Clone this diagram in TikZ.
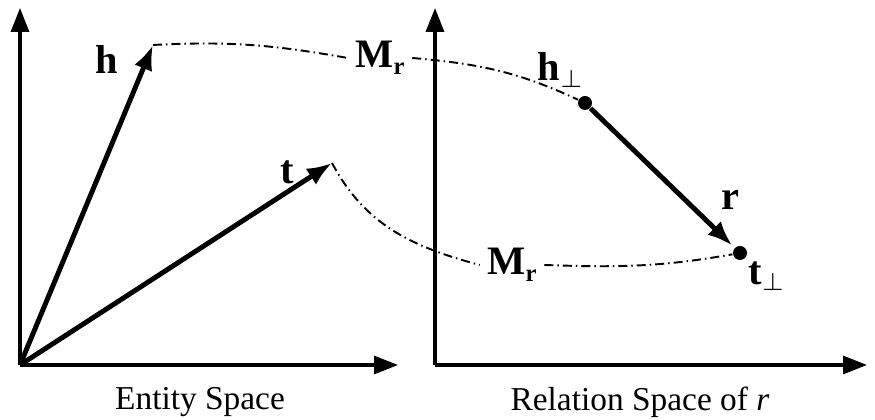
\documentclass[tikz,border=0pt]{standalone}
\usepackage{fontspec}
\setmainfont{Liberation Serif}
\usetikzlibrary{arrows.meta,positioning}
\newcommand{\Mrsub}{\textbf{M}\raisebox{-0.35ex}{\scriptsize\bfseries r}}
\newcommand{\perpsub}{\raisebox{-0.35ex}{\scriptsize$\perp$}}

\begin{document}
\begin{tikzpicture}[
  axis/.style={line width=0.9pt, -{Triangle[length=2.4mm, width=1.8mm]}},
  vec/.style={line width=1.4pt, -{Latex[length=2.5mm, width=1.9mm]}},
  proj/.style={line width=0.55pt, dash pattern=on 0.9mm off 0.4mm on 0.15mm off 0.4mm},
  dot/.style={circle, fill, inner sep=0pt, minimum size=1.4mm},
  lbl/.style={font=\fontsize{11.5}{13}\selectfont\bfseries, inner sep=1pt},
  spacecap/.style={font=\fontsize{9.5}{11}\selectfont}
]
\useasboundingbox (0,0) rectangle (8.75,4.20);

\coordinate (eo) at (0.20,0.55);
\coordinate (ey) at (0.20,4.12);
\coordinate (ex) at (3.98,0.55);
\draw[axis] (eo) -- (ey);
\draw[axis] (eo) -- (ex);

\coordinate (htip) at (1.53,3.75);
\coordinate (ttip) at (3.32,2.57);
\draw[vec] (eo) -- (htip);
\draw[vec] (eo) -- (ttip);
\node[lbl] (hlab) at (1.07,3.60) {h};
\node[lbl] (tlab) at (2.87,2.48) {t};

\coordinate (ro) at (4.35,0.55);
\coordinate (ry) at (4.35,4.12);
\coordinate (rx) at (8.67,0.55);
\draw[axis] (ro) -- (ry);
\draw[axis] (ro) -- (rx);

\node[dot] (hp) at (5.85,3.17) {};
\node[dot] (tp) at (7.40,1.67) {};
\draw[vec, shorten >=0.3mm] (hp) -- (tp);
\node[lbl] (hplab) at (5.60,3.50) {h\perpsub};
\node[lbl] (tplab) at (7.66,1.44) {t\perpsub};
\node[lbl] (rlab) at (7.30,2.20) {r};

\node[lbl, inner sep=2pt] (mr1) at (3.80,3.62) {\Mrsub};
\node[lbl, inner sep=2pt] (mr2) at (5.12,1.55) {\Mrsub};
\draw[proj] (htip) to[out=3, in=170] (mr1.west);
\draw[proj] (mr1.east) to[out=-5, in=155] (hp);
\draw[proj] (ttip) to[out=-62, in=165] (mr2.west);
\draw[proj] (mr2.east) to[out=-2, in=190] (tp);

\node[spacecap] (ecap) at (2.00,0.18) {Entity Space};
\node[spacecap] (rcap) at (6.40,0.18) {Relation Space of \textit{r}};
\end{tikzpicture}
\end{document}
